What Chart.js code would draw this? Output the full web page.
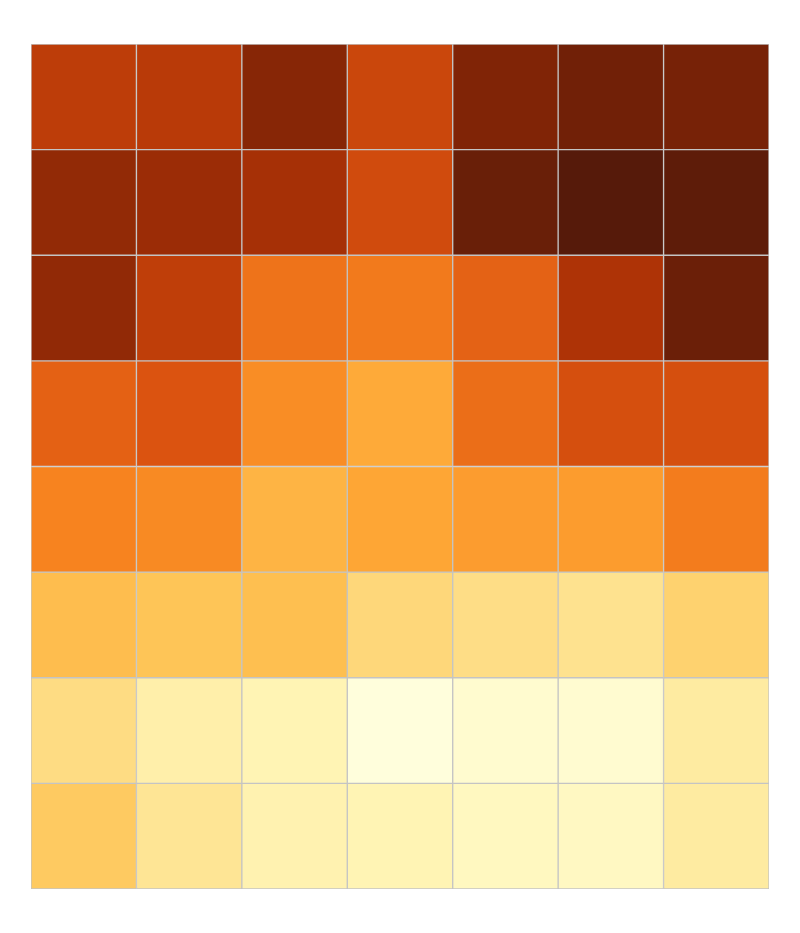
<!DOCTYPE html>
<html>
<head>
<meta charset="utf-8">
<script src="https://cdn.jsdelivr.net/npm/chart.js@4.4.0/dist/chart.umd.min.js"></script>
<style>
  html, body { margin: 0; padding: 0; background: #ffffff; }
  #wrap { width: 800px; height: 933px; }
</style>
</head>
<body>
<div id="wrap"><canvas id="heat"></canvas></div>
<script>
// columns and rows of the grid (top row first)
const columns = ['c1', 'c2', 'c3', 'c4', 'c5', 'c6', 'c7'];
const rows = ['r1', 'r2', 'r3', 'r4', 'r5', 'r6', 'r7', 'r8'];

// cell values on a 0..9 scale
const row1 = [6.70, 6.80, 7.80, 6.40, 7.95, 8.30, 8.15];
const row2 = [7.58, 7.42, 7.20, 6.27, 8.50, 8.95, 8.75];
const row3 = [7.60, 6.67, 5.33, 5.20, 5.70, 7.03, 8.45];
const row4 = [5.72, 6.02, 4.71, 3.88, 5.45, 6.15, 6.15];
const row5 = [5.00, 4.80, 3.56, 4.00, 4.29, 4.30, 5.15];
const row6 = [3.28, 3.03, 3.22, 2.41, 2.20, 2.03, 2.59];
const row7 = [2.24, 1.37, 1.10, 0.10, 0.43, 0.40, 1.58];
const row8 = [2.85, 1.90, 1.21, 1.10, 0.80, 0.75, 1.58];
const values = [row1, row2, row3, row4, row5, row6, row7, row8];
const valueMax = 9;

// yellow-orange-brown colour ramp, evenly spaced stops
const ramp = ['#ffffe0', '#fff6b8', '#fee391', '#fec658', '#fea635',
              '#f7831f', '#dc5410', '#b03306', '#7d2306', '#541a0a'];

function hexToRgb(h) {
    const n = parseInt(h.slice(1), 16);
    return [(n >> 16) & 255, (n >> 8) & 255, n & 255];
}

function colorFor(v) {
    const t = Math.max(0, Math.min(1, v / valueMax)) * (ramp.length - 1);
    const i = Math.min(Math.floor(t), ramp.length - 2);
    const f = t - i;
    const a = hexToRgb(ramp[i]);
    const b = hexToRgb(ramp[i + 1]);
    const c = a.map((x, k) => Math.round(x + (b[k] - x) * f));
    return `rgb(${c[0]}, ${c[1]}, ${c[2]})`;
}

// one stacked dataset per row, each cell one unit tall
const datasets = rows.map((name, r) => ({
    label: name,
    data: columns.map(() => 1),
    backgroundColor: values[r].map(colorFor),
    borderColor: '#c4c4c4',
    borderWidth: 1,
    borderSkipped: false,
    categoryPercentage: 1.0,
    barPercentage: 1.0
}));

new Chart(document.getElementById('heat').getContext('2d'), {
    type: 'bar',
    data: { labels: columns, datasets: datasets },
    options: {
        responsive: true,
        maintainAspectRatio: false,
        animation: false,
        layout: { padding: { left: 31, right: 31, top: 44, bottom: 44 } },
        plugins: {
            legend: { display: false },
            tooltip: { enabled: false }
        },
        scales: {
            x: { stacked: true, display: false, offset: true },
            y: { stacked: true, display: false, reverse: true, min: 0, max: rows.length }
        }
    }
});
</script>
</body>
</html>
